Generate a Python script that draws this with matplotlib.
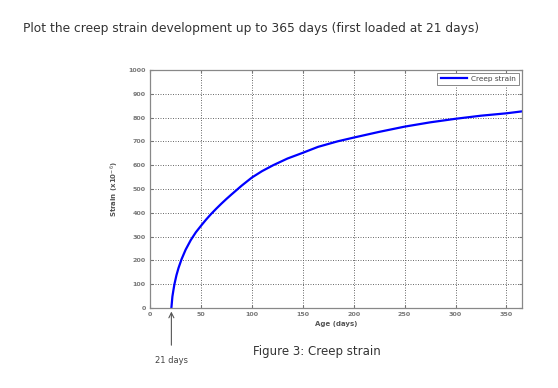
import matplotlib
matplotlib.use("Agg")
import matplotlib.pyplot as plt

# values
age_days = [21, 22, 23, 24, 26, 28, 31, 35, 40, 45, 50, 55, 60, 65, 70, 75, 80, 90,
            100, 110, 121, 135, 150, 165, 184, 200, 225, 250, 275, 300, 325, 350, 365]
creep_strain = [0, 48, 75, 100, 138, 168, 205, 245, 285, 318, 345, 371, 395, 417,
                438, 458, 477, 514, 548, 575, 600, 628, 652, 677, 700, 716, 740, 762,
                780, 795, 808, 818, 826]

x_ticks = [0, 50, 100, 150, 200, 250, 300, 350]
y_ticks = [0, 100, 200, 300, 400, 500, 600, 700, 800, 900, 1000]
load_day = 21

fig = plt.figure(figsize=(5.58, 3.88), dpi=100)
ax = fig.add_axes([0.2688, 0.2062, 0.6662, 0.6134])

ax.plot(age_days, creep_strain, color="#0000ff", lw=1.6, label="Creep strain")
ax.set_xlim(0, 365)
ax.set_ylim(0, 1000)
ax.set_xticks(x_ticks)
ax.set_yticks(y_ticks)
ax.grid(True, linestyle=(0, (1.2, 1.8)), color="#555555", lw=0.6)
ax.tick_params(direction="in", length=2.5, labelsize=4.6, colors="#777777",
               top=True, right=True, pad=3)
for lab in ax.get_xticklabels() + ax.get_yticklabels():
    lab.set_fontweight("bold")
    lab.set_color("#777777")
for s in ax.spines.values():
    s.set_color("#888888")
    s.set_linewidth(0.9)

ax.set_xlabel("Age (days)", fontsize=5, fontweight="bold", color="#555555", labelpad=3)
ax.set_ylabel("Strain (x10$^{-6}$)", fontsize=5, fontweight="bold", color="#555555",
              labelpad=5)

leg = ax.legend(loc="upper right", fontsize=5.3, handlelength=3.6, borderpad=0.45,
                handletextpad=0.5, fancybox=False, framealpha=1, borderaxespad=0.35)
leg.get_frame().set_edgecolor("#888888")
leg.get_frame().set_linewidth(0.7)
for t in leg.get_texts():
    t.set_color("#444444")

fig.text(0.041, 0.927, "Plot the creep strain development up to 365 days (first loaded at 21 days)",
         fontsize=8.8, color="#333333", ha="left", va="center", family="DejaVu Sans")
fig.text(0.567, 0.093, "Figure 3: Creep strain", fontsize=8.5, color="#333333",
         ha="center", va="center", family="DejaVu Sans")

ax.annotate("21 days", xy=(load_day, -15), xytext=(load_day, -203),
            textcoords="data", annotation_clip=False, fontsize=6, color="#444444",
            ha="center", va="top", family="DejaVu Sans",
            arrowprops=dict(arrowstyle="->", color="#555555", lw=0.8,
                            mutation_scale=9, shrinkA=6, shrinkB=0))

fig.savefig("out.png", dpi=100, facecolor="white")
